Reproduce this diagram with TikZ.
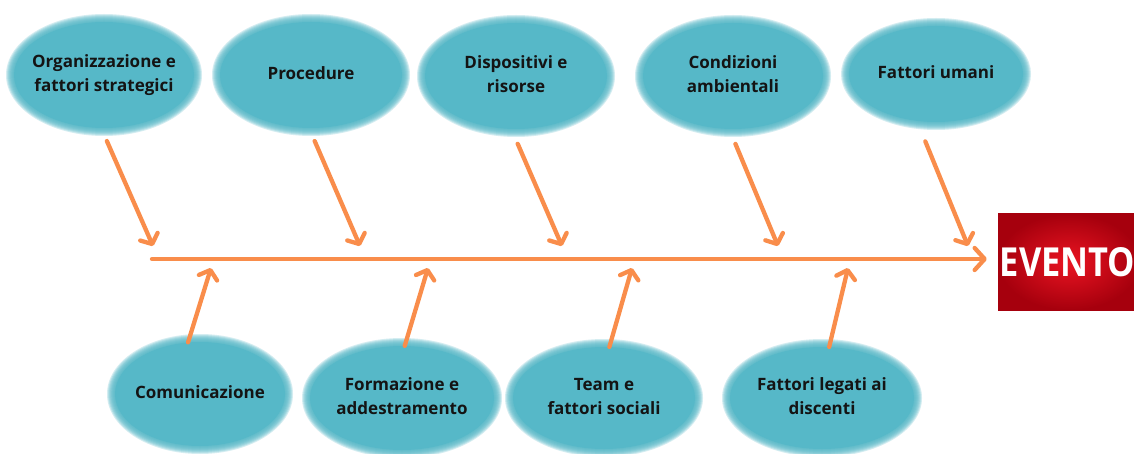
\documentclass[tikz,border=0pt]{standalone}
\usepackage{fontspec}
\setmainfont{Open Sans}
\usetikzlibrary{shapes.geometric,arrows.meta}
\definecolor{tealF}{HTML}{56B8C8}
\definecolor{orangeA}{HTML}{F98D4B}
\definecolor{txtc}{HTML}{141414}
\definecolor{redin}{HTML}{EA1422}
\definecolor{redout}{HTML}{A6000D}
\newcommand{\softell}[3]{%
  \foreach \k in {1,...,8}{\fill[tealF,opacity=0.25] (#1) ellipse [x radius={(#2/2+1-\k)*1pt}, y radius={(#3/2+1-\k)*1pt}];}}
\newcommand{\lbl}[1]{\makebox[0pt]{\begin{tabular}{@{}c@{}}#1\end{tabular}}}
\begin{document}
\begin{tikzpicture}[x=1pt,y=-1pt,
  cause/.style={ellipse, fill=tealF, inner sep=0pt, text=txtc,
    font=\bfseries\fontsize{17}{24}\selectfont},
  arr/.style={orangeA, line width=4.3pt, line cap=round,
    -{Straight Barb[length=8pt,width=19pt,round]}},
  spine/.style={orangeA, line width=4.3pt, line cap=round,
    -{Straight Barb[length=10pt,width=22pt,round]}},
  evbox/.style={rectangle, inner sep=0pt, inner color=redin, outer color=redout,
    text=white, font=\bfseries\fontsize{40}{40}\selectfont}]
\useasboundingbox (0,0) rectangle (1134,454);
\fill[white] (0,0) rectangle (1134,454);

% top causes
\softell{104,75}{196}{122}
\node[cause, minimum width=180, minimum height=106] (o1) at (104,75) {\lbl{Organizzazione e\\fattori strategici}};
\softell{311,75}{198}{122}
\node[cause, minimum width=182, minimum height=106] (o2) at (311,75) {\lbl{Procedure}};
\softell{516,76}{198}{122}
\node[cause, minimum width=182, minimum height=106] (o3) at (516,76) {\lbl{Dispositivi e\\risorse}};
\softell{733,76}{196}{122}
\node[cause, minimum width=180, minimum height=106] (o4) at (733,76) {\lbl{Condizioni\\ambientali}};
\softell{936,74}{190}{112}
\node[cause, minimum width=174, minimum height=96] (o5) at (936,74) {\lbl{Fattori umani}};

% bottom causes
\softell{200,394}{186}{120}
\node[cause, minimum width=170, minimum height=104] (c1) at (200,394) {\raisebox{5pt}{\lbl{Comunicazione}}};
\softell{402,398}{200}{120}
\node[cause, minimum width=184, minimum height=104] (c2) at (402,398) {\lbl{Formazione e\\addestramento}};
\softell{604,398}{198}{118}
\node[cause, minimum width=182, minimum height=102] (c3) at (604,398) {\lbl{Team e\\fattori sociali}};
\softell{822,398}{200}{118}
\node[cause, minimum width=184, minimum height=102] (c4) at (822,398) {\lbl{Fattori legati ai\\discenti}};

% effect
\node[evbox, minimum width=142, minimum height=96] (ev) at (1069,262) {\hspace*{-3pt}\scalebox{0.86}[1]{EVENTO}};

% spine
\coordinate (tail) at (152,259);
\draw[spine, shorten >=11pt] (tail) -- (tail -| ev.west);

% top arrow ends
\coordinate (t1) at (153,246);
\coordinate (t2) at (360,246);
\coordinate (t3) at (562,246);
\coordinate (t4) at (778,246);
\coordinate (t5) at (968,246);
\draw[arr, shorten <=14pt] (o1.267) -- (t1);
\draw[arr, shorten <=14pt] (o2.268) -- (t2);
\draw[arr, shorten <=16pt] (o3.265) -- (t3);
\draw[arr, shorten <=16pt] (o4.266) -- (t4);
\draw[arr, shorten <=22pt] (o5.248) -- (t5);

% bottom arrow ends
\coordinate (b1) at (211,268);
\coordinate (b2) at (428,268);
\coordinate (b3) at (632,268);
\coordinate (b4) at (848,268);
\draw[arr] (c1.103) -- (b1);
\draw[arr] (c2.87) -- (b2);
\draw[arr] (c3.84) -- (b3);
\draw[arr] (c4.82) -- (b4);
\end{tikzpicture}
\end{document}
